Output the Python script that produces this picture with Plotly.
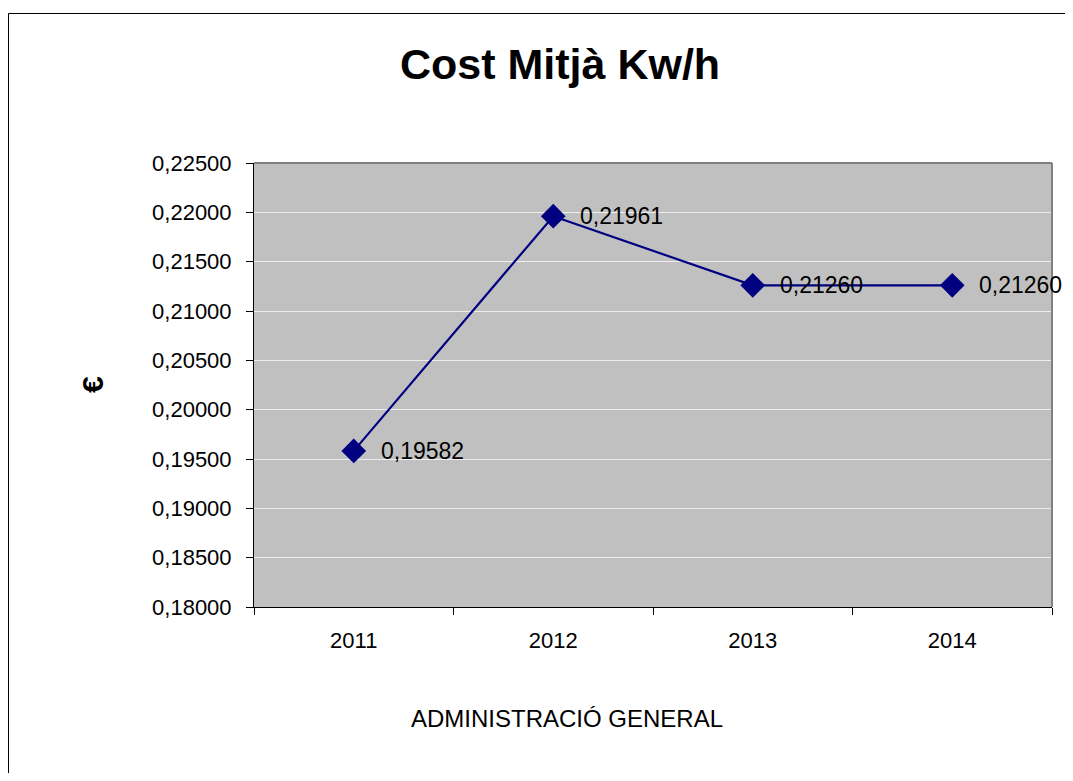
import plotly.graph_objects as go

years = ["2011", "2012", "2013", "2014"]
cost = [0.19582, 0.21961, 0.21260, 0.21260]
labels = ["0,19582", "0,21961", "0,21260", "0,21260"]

OFF = 8  # page body margin
W, H = 1073 - 2 * OFF, 781 - 2 * OFF
L, R, T, B = 254 - OFF, 1052 - OFF, 163 - OFF, 607 - OFF

def px_x(px):
    return (px - OFF - L) / (R - L)

def px_y(py):
    return (B - (py - OFF)) / (B - T)

FONT = "Liberation Sans, Arial"

fig = go.Figure()
fig.add_trace(go.Scatter(
    x=years, y=cost, mode="lines+markers",
    line=dict(color="#000080", width=2.2),
    marker=dict(symbol="diamond", size=19, color="#000080"),
    cliponaxis=False, showlegend=False,
))

for i, (v, lab) in enumerate(zip(cost, labels)):
    fig.add_annotation(x=i, y=v, xref="x", yref="y", text=lab, showarrow=False,
                       xanchor="left", yanchor="middle", xshift=25, yshift=0,
                       font=dict(family=FONT, size=23, color="black"))

fig.update_layout(
    width=W, height=H,
    margin=dict(l=L, r=W - R, t=T, b=H - B),
    paper_bgcolor="white", plot_bgcolor="#C0C0C0",
    font=dict(family=FONT, size=22, color="black"),
    xaxis=dict(
        type="category", categoryorder="array", categoryarray=years,
        range=[-0.5, len(years) - 0.5], autorange=False,
        tickson="boundaries", ticks="outside", ticklen=7,
        tickcolor="black", showgrid=False, showline=True, linecolor="black",
        linewidth=1, tickfont=dict(size=22), ticklabelstandoff=14, tickangle=0,
    ),
    yaxis=dict(
        range=[0.18, 0.225], dtick=0.005, tickformat=".5f",
        ticks="outside", ticklen=7, tickcolor="black",
        showgrid=True, gridcolor="#EEEEEE", gridwidth=1,
        showline=True, linecolor="black", linewidth=1,
        zeroline=False, tickfont=dict(size=22), ticklabelstandoff=10,
    ),
    separators=",.",
)

# plot area top/right border (gray)
fig.add_shape(type="line", xref="paper", yref="paper", x0=0, x1=1, y0=1, y1=1,
              line=dict(color="#808080", width=2))
fig.add_shape(type="line", xref="paper", yref="paper", x0=1, x1=1, y0=0, y1=1,
              line=dict(color="#808080", width=2))
# chart outer border
fig.add_shape(type="rect", xref="paper", yref="paper",
              x0=px_x(8.5), x1=px_x(1100), y0=px_y(800), y1=px_y(13.5),
              line=dict(color="black", width=1), fillcolor="rgba(0,0,0,0)")

fig.add_annotation(text="<b>Cost Mitjà Kw/h</b>", xref="paper", yref="paper",
                   x=px_x(560), y=px_y(64), xanchor="center", yanchor="middle",
                   showarrow=False, font=dict(size=43, family=FONT))
fig.add_annotation(text="<b>€</b>", xref="paper", yref="paper",
                   x=px_x(92), y=px_y(385), xanchor="center", yanchor="middle",
                   showarrow=False, textangle=-90,
                   font=dict(size=30, family=FONT))
fig.add_annotation(text="ADMINISTRACIÓ GENERAL", xref="paper", yref="paper",
                   x=px_x(567), y=px_y(718), xanchor="center", yanchor="middle",
                   showarrow=False, font=dict(size=24, family=FONT))

fig.write_html("out.html")
